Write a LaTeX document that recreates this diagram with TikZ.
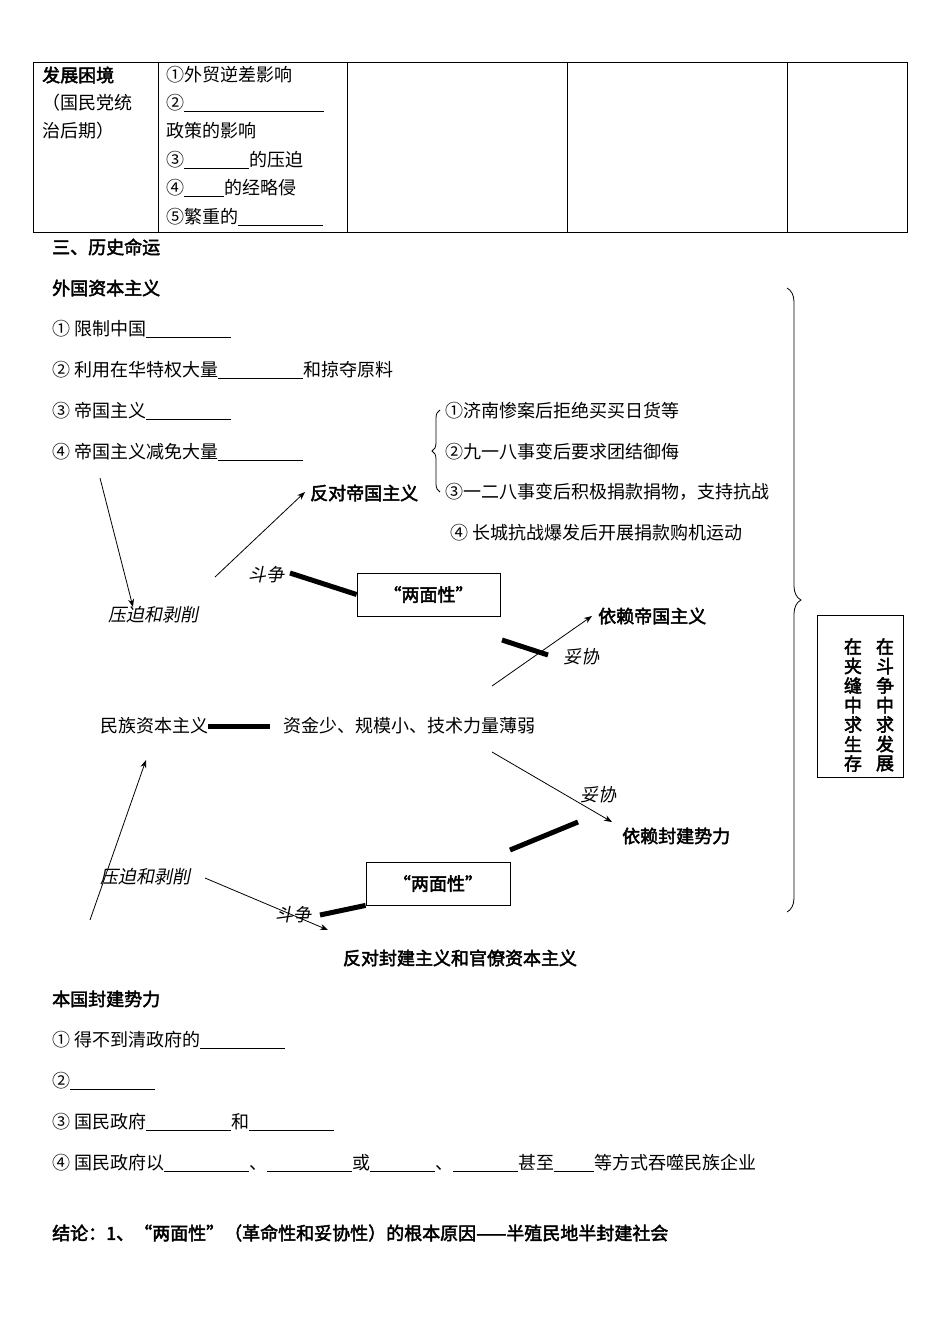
\documentclass[tikz,border=0pt]{standalone}
\usepackage{fontspec}
\setmainfont{Noto Sans CJK SC}[AutoFakeBold=2.5,AutoFakeSlant=0.2]
\usetikzlibrary{decorations.pathreplacing,arrows.meta}
\newcommand{\bk}[1]{\underline{\hspace{#1pt}}}
\begin{document}
\begin{tikzpicture}[x=1pt,y=-1pt,
  t/.style={anchor=west,inner sep=0pt,font=\fontsize{18}{20}\selectfont},
  b/.style={t,font=\fontsize{18}{20}\selectfont\bfseries},
  it/.style={t,font=\fontsize{18}{20}\selectfont\itshape},
  arr/.style={-{Stealth[length=8pt,width=6pt]},line width=0.8pt},
  thick bar/.style={line width=5pt},
  box/.style={draw,line width=0.8pt}]
\useasboundingbox (0,0) rectangle (950,1342);
% table
\draw[line width=0.8pt] (33,62) rectangle (907,232);
\foreach \x in {158,347,567,787} \draw[line width=0.8pt] (\x,62)--(\x,232);
\node[b] (h1) at (42,75) {发展困境};
\node[t] (h2) at (42,103) {（国民党统};
\node[t] (h3) at (42,131) {治后期）};
\node[t] (c1) at (166,75) {①外贸逆差影响};
\node[t] (c2) at (166,103) {②\bk{140}};
\node[t] (c3) at (166,131) {政策的影响};
\node[t] (c4) at (166,160) {③\bk{65}的压迫};
\node[t] (c5) at (166,188) {④\bk{40}的经略侵};
\node[t] (c6) at (166,217) {⑤繁重的\bk{85}};
% section
\node[b] (s3) at (52,247) {三、历史命运};
\node[b] (wg) at (52,288) {外国资本主义};
\node[t] (w1) at (52,329) {① 限制中国\bk{85}};
\node[t] (w2) at (52,370) {② 利用在华特权大量\bk{85}和掠夺原料};
\node[t] (w3) at (52,411) {③ 帝国主义\bk{85}};
\node[t] (w4) at (52,452) {④ 帝国主义减免大量\bk{85}};
\draw[decorate,decoration={brace,amplitude=8pt},line width=0.8pt] (440,492)--(440,410);
\node[t] (r1) at (445,411) {①济南惨案后拒绝买买日货等};
\node[t] (r2) at (445,452) {②九一八事变后要求团结御侮};
\node[t] (r3) at (445,492) {③一二八事变后积极捐款捐物，支持抗战};
\node[t] (r4) at (450,533) {④ 长城抗战爆发后开展捐款购机运动};
\node[b] (fd) at (310,493) {反对帝国主义};
\coordinate (a1s) at (100,478); \coordinate (a1e) at (133,607);
\draw[arr] (a1s)--(a1e);
\node[it] (yp1) at (108,615) {压迫和剥削};
\coordinate (a2s) at (215,577); \coordinate (a2e) at (305,492);
\draw[arr] (a2s)--(a2e);
\node[it] (dz1) at (248,575) {斗争};
\node[box,minimum width=143pt,minimum height=43pt,font=\fontsize{18}{20}\selectfont\bfseries] (lm1) at (428.5,594.5) {“两面性”};
\draw[thick bar] (290,573)--(lm1.west);
\coordinate (a3s) at (492,686); \coordinate (a3e) at (592,616);
\draw[arr] (a3s)--(a3e);
\draw[thick bar] (502,640)--(548,655);
\node[it] (tx1) at (563,657) {妥协};
\node[b] (yl1) at (598,616) {依赖帝国主义};
\node[t] (mz) at (100,726) {民族资本主义};
\draw[thick bar] (mz.east)--(270,726);
\node[t] (zj) at (283,726) {资金少、规模小、技术力量薄弱};
\coordinate (a4s) at (90,920); \coordinate (a4e) at (146,760);
\draw[arr] (a4s)--(a4e);
\coordinate (a5s) at (492,752); \coordinate (a5e) at (612,822);
\draw[arr] (a5s)--(a5e);
\node[it] (tx2) at (580,795) {妥协};
\node[b] (yl2) at (622,836) {依赖封建势力};
\draw[thick bar] (510,850)--(578,822);
\node[box,minimum width=144pt,minimum height=43pt,font=\fontsize{18}{20}\selectfont\bfseries] (lm2) at (438,883.5) {“两面性”};
\node[it] (yp2) at (100,877) {压迫和剥削};
\coordinate (a6s) at (205,878); \coordinate (a6e) at (328,930);
\draw[arr] (a6s)--(a6e);
\node[it] (dz2) at (275,915) {斗争};
\draw[thick bar] (320,915)--(lm2.south west);
\node[b,anchor=center] (fd2) at (460,958) {反对封建主义和官僚资本主义};
% big brace
\draw[decorate,decoration={brace,amplitude=14pt},line width=0.8pt] (787,288)--(787,912);
\node[box,minimum width=86pt,minimum height=162pt] (vb) at (860,696) {};
\foreach \c [count=\i] in {在,斗,争,中,求,发,展}
  \node[b,anchor=center] at (885,627+\i*19.5) {\c};
\foreach \c [count=\i] in {在,夹,缝,中,求,生,存}
  \node[b,anchor=center] at (853,627+\i*19.5) {\c};
% bottom
\node[b] (bg) at (52,999) {本国封建势力};
\node[t] (b1) at (52,1040) {① 得不到清政府的\bk{85}};
\node[t] (b2) at (52,1081) {②\bk{85}};
\node[t] (b3) at (52,1122) {③ 国民政府\bk{85}和\bk{85}};
\node[t] (b4) at (52,1163) {④ 国民政府以\bk{85}、\bk{85}或\bk{65}、\bk{65}甚至\bk{40}等方式吞噬民族企业};
\node[b] (jl) at (52,1233) {结论：1、“两面性”（革命性和妥协性）的根本原因——半殖民地半封建社会};
\end{tikzpicture}
\end{document}
